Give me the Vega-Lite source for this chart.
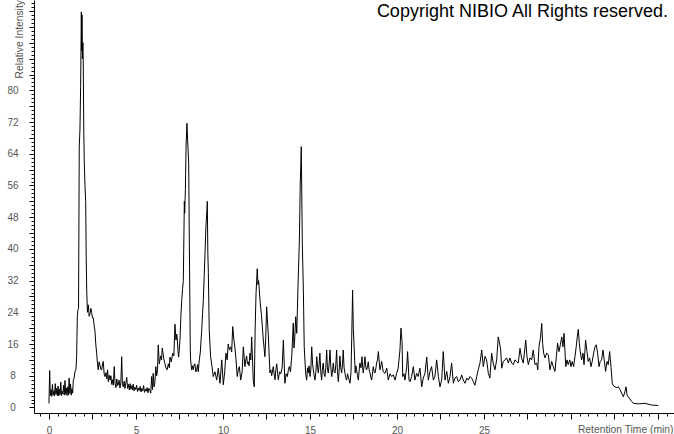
{
"$schema":"https://vega.github.io/schema/vega-lite/v6.json",
"width":640,"height":413,
"autosize":{"type":"none"},
"padding":{"left":34,"top":0,"right":0,"bottom":21},
"background":"white",
"config":{"view":{"stroke":null},"font":"Liberation Sans",
"axis":{"grid":false,"domainColor":"black","tickColor":"black","labelColor":"#555555","titleColor":"#555555","labelFont":"Liberation Sans","titleFont":"Liberation Sans","labelFontSize":10,"titleFontSize":10.3,"titleFontWeight":"normal","domainWidth":1,"tickWidth":1}},
"title":{"text":"Copyright NIBIO All Rights reserved.","anchor":"end","frame":"group","orient":"top","offset":-35,"baseline":"alphabetic","fontSize":18,"font":"Liberation Sans","fontWeight":"normal","color":"black","dx":-6},
"data":{"values":[
{"t":0,"v":1.0},{"t":0.04,"v":9.3},{"t":0.08,"v":3.0},{"t":0.12,"v":4.5},{"t":0.16,"v":2.8},{"t":0.2,"v":5.8},{"t":0.24,"v":3.1},{"t":0.28,"v":4.2},{"t":0.32,"v":2.9},{"t":0.36,"v":6.0},{"t":0.4,"v":3.3},{"t":0.44,"v":4.8},{"t":0.48,"v":3.0},{"t":0.52,"v":5.4},{"t":0.56,"v":2.9},{"t":0.6,"v":4.6},{"t":0.64,"v":3.2},{"t":0.68,"v":6.4},{"t":0.72,"v":3.0},{"t":0.76,"v":4.1},{"t":0.8,"v":3.4},{"t":0.84,"v":5.6},{"t":0.88,"v":3.1},{"t":0.92,"v":6.8},{"t":0.96,"v":3.3},{"t":1.0,"v":4.9},{"t":1.04,"v":3.0},{"t":1.08,"v":5.2},{"t":1.12,"v":3.2},{"t":1.16,"v":7.4},{"t":1.2,"v":3.5},{"t":1.24,"v":5.9},{"t":1.28,"v":3.1},{"t":1.32,"v":4.7},{"t":1.36,"v":3.6},{"t":1.4,"v":6.9},{"t":1.44,"v":7.2},{"t":1.49,"v":9.0},{"t":1.55,"v":9.5},{"t":1.59,"v":12.8},{"t":1.63,"v":23.0},{"t":1.66,"v":24.5},{"t":1.7,"v":25.0},{"t":1.72,"v":45.0},{"t":1.74,"v":65.7},{"t":1.78,"v":70.0},{"t":1.82,"v":81.0},{"t":1.86,"v":99.8},{"t":1.88,"v":90.0},{"t":1.9,"v":99.0},{"t":1.92,"v":88.0},{"t":1.95,"v":92.0},{"t":1.97,"v":87.6},{"t":2.0,"v":70.0},{"t":2.03,"v":61.6},{"t":2.07,"v":56.0},{"t":2.11,"v":52.0},{"t":2.14,"v":38.0},{"t":2.17,"v":29.6},{"t":2.21,"v":24.0},{"t":2.26,"v":25.9},{"t":2.31,"v":23.0},{"t":2.36,"v":23.7},{"t":2.41,"v":25.0},{"t":2.45,"v":24.0},{"t":2.5,"v":22.6},{"t":2.55,"v":22.6},{"t":2.6,"v":20.5},{"t":2.64,"v":19.5},{"t":2.69,"v":16.0},{"t":2.74,"v":13.7},{"t":2.79,"v":11.0},{"t":2.83,"v":9.5},{"t":2.88,"v":11.5},{"t":2.93,"v":10.7},{"t":2.98,"v":9.6},{"t":3.03,"v":9.5},{"t":3.08,"v":11.0},{"t":3.12,"v":11.6},{"t":3.17,"v":8.5},{"t":3.22,"v":7.8},{"t":3.27,"v":8.8},{"t":3.32,"v":7.2},{"t":3.37,"v":9.5},{"t":3.41,"v":6.5},{"t":3.46,"v":8.1},{"t":3.51,"v":6.9},{"t":3.56,"v":8.0},{"t":3.61,"v":5.8},{"t":3.66,"v":7.0},{"t":3.7,"v":5.6},{"t":3.75,"v":10.3},{"t":3.8,"v":6.0},{"t":3.85,"v":5.0},{"t":3.9,"v":7.2},{"t":3.94,"v":5.5},{"t":3.98,"v":5.7},{"t":4.03,"v":6.9},{"t":4.08,"v":4.9},{"t":4.13,"v":6.2},{"t":4.18,"v":12.8},{"t":4.22,"v":6.0},{"t":4.27,"v":5.2},{"t":4.32,"v":6.6},{"t":4.37,"v":4.8},{"t":4.42,"v":6.2},{"t":4.47,"v":7.6},{"t":4.52,"v":4.8},{"t":4.57,"v":5.8},{"t":4.62,"v":4.4},{"t":4.66,"v":6.0},{"t":4.71,"v":4.6},{"t":4.76,"v":5.5},{"t":4.8,"v":4.4},{"t":4.84,"v":5.9},{"t":4.89,"v":4.2},{"t":4.94,"v":5.1},{"t":4.99,"v":4.5},{"t":5.04,"v":5.6},{"t":5.09,"v":4.0},{"t":5.14,"v":4.9},{"t":5.19,"v":4.3},{"t":5.24,"v":5.3},{"t":5.29,"v":3.9},{"t":5.34,"v":4.8},{"t":5.39,"v":4.2},{"t":5.44,"v":5.5},{"t":5.49,"v":3.8},{"t":5.54,"v":4.6},{"t":5.59,"v":4.1},{"t":5.64,"v":5.0},{"t":5.69,"v":3.7},{"t":5.74,"v":4.8},{"t":5.8,"v":4.4},{"t":5.85,"v":3.6},{"t":5.9,"v":7.8},{"t":5.95,"v":4.5},{"t":5.99,"v":8.6},{"t":6.04,"v":5.2},{"t":6.09,"v":6.5},{"t":6.14,"v":10.3},{"t":6.19,"v":8.0},{"t":6.24,"v":9.5},{"t":6.28,"v":15.8},{"t":6.34,"v":11.0},{"t":6.42,"v":13.0},{"t":6.47,"v":12.0},{"t":6.51,"v":15.0},{"t":6.56,"v":13.5},{"t":6.61,"v":12.0},{"t":6.67,"v":11.0},{"t":6.72,"v":10.0},{"t":6.79,"v":9.5},{"t":6.86,"v":11.0},{"t":6.92,"v":10.0},{"t":6.95,"v":12.7},{"t":7.03,"v":11.5},{"t":7.11,"v":13.7},{"t":7.18,"v":13.0},{"t":7.24,"v":21.0},{"t":7.3,"v":17.0},{"t":7.34,"v":18.5},{"t":7.37,"v":17.5},{"t":7.42,"v":14.0},{"t":7.45,"v":12.7},{"t":7.53,"v":17.0},{"t":7.58,"v":23.0},{"t":7.63,"v":27.0},{"t":7.68,"v":30.0},{"t":7.72,"v":32.0},{"t":7.76,"v":45.0},{"t":7.78,"v":52.0},{"t":7.8,"v":49.0},{"t":7.84,"v":55.0},{"t":7.88,"v":66.0},{"t":7.93,"v":71.7},{"t":7.97,"v":67.4},{"t":8.03,"v":61.6},{"t":8.08,"v":35.0},{"t":8.12,"v":15.0},{"t":8.14,"v":12.0},{"t":8.2,"v":9.5},{"t":8.25,"v":10.5},{"t":8.29,"v":9.5},{"t":8.34,"v":10.7},{"t":8.39,"v":11.0},{"t":8.44,"v":9.0},{"t":8.49,"v":9.5},{"t":8.54,"v":10.8},{"t":8.58,"v":9.0},{"t":8.64,"v":12.0},{"t":8.7,"v":14.0},{"t":8.74,"v":17.0},{"t":8.78,"v":19.5},{"t":8.83,"v":24.0},{"t":8.87,"v":27.0},{"t":8.92,"v":33.0},{"t":8.97,"v":39.0},{"t":9.02,"v":45.6},{"t":9.08,"v":50.0},{"t":9.1,"v":52.0},{"t":9.13,"v":39.0},{"t":9.16,"v":34.0},{"t":9.21,"v":19.5},{"t":9.29,"v":12.8},{"t":9.37,"v":10.3},{"t":9.44,"v":7.8},{"t":9.54,"v":9.0},{"t":9.64,"v":6.9},{"t":9.73,"v":9.9},{"t":9.83,"v":6.1},{"t":9.93,"v":12.0},{"t":10.02,"v":5.7},{"t":10.1,"v":9.0},{"t":10.17,"v":13.7},{"t":10.24,"v":12.0},{"t":10.3,"v":16.0},{"t":10.37,"v":14.5},{"t":10.44,"v":15.3},{"t":10.5,"v":14.0},{"t":10.56,"v":20.4},{"t":10.63,"v":17.0},{"t":10.69,"v":15.0},{"t":10.75,"v":12.0},{"t":10.82,"v":7.8},{"t":10.88,"v":9.5},{"t":10.94,"v":10.3},{"t":11.02,"v":6.9},{"t":11.1,"v":9.0},{"t":11.17,"v":15.3},{"t":11.26,"v":10.3},{"t":11.31,"v":12.0},{"t":11.36,"v":13.0},{"t":11.41,"v":11.0},{"t":11.45,"v":11.5},{"t":11.5,"v":10.5},{"t":11.55,"v":13.7},{"t":11.6,"v":12.0},{"t":11.65,"v":17.8},{"t":11.74,"v":6.9},{"t":11.8,"v":5.2},{"t":11.85,"v":20.0},{"t":11.9,"v":28.8},{"t":11.97,"v":35.0},{"t":12.01,"v":31.0},{"t":12.05,"v":32.0},{"t":12.13,"v":27.0},{"t":12.22,"v":22.9},{"t":12.32,"v":17.0},{"t":12.41,"v":12.8},{"t":12.46,"v":18.0},{"t":12.51,"v":25.4},{"t":12.6,"v":18.7},{"t":12.7,"v":8.7},{"t":12.75,"v":9.5},{"t":12.8,"v":8.0},{"t":12.89,"v":10.3},{"t":12.94,"v":8.5},{"t":12.99,"v":7.0},{"t":13.04,"v":9.5},{"t":13.09,"v":11.0},{"t":13.14,"v":8.5},{"t":13.18,"v":7.0},{"t":13.25,"v":9.0},{"t":13.32,"v":8.5},{"t":13.4,"v":10.0},{"t":13.47,"v":17.0},{"t":13.56,"v":6.1},{"t":13.63,"v":8.5},{"t":13.7,"v":7.8},{"t":13.76,"v":9.5},{"t":13.81,"v":10.3},{"t":13.88,"v":9.0},{"t":13.95,"v":12.8},{"t":14.04,"v":21.3},{"t":14.08,"v":15.0},{"t":14.12,"v":17.0},{"t":14.18,"v":22.9},{"t":14.24,"v":18.7},{"t":14.31,"v":30.4},{"t":14.39,"v":42.0},{"t":14.44,"v":56.0},{"t":14.5,"v":65.8},{"t":14.56,"v":41.4},{"t":14.62,"v":29.6},{"t":14.67,"v":15.3},{"t":14.75,"v":8.7},{"t":14.81,"v":6.9},{"t":14.86,"v":10.0},{"t":14.9,"v":8.7},{"t":14.95,"v":10.5},{"t":15.0,"v":7.8},{"t":15.05,"v":9.5},{"t":15.1,"v":15.3},{"t":15.15,"v":11.0},{"t":15.19,"v":9.5},{"t":15.24,"v":8.0},{"t":15.29,"v":6.9},{"t":15.34,"v":9.0},{"t":15.39,"v":12.8},{"t":15.44,"v":10.0},{"t":15.48,"v":8.7},{"t":15.52,"v":10.5},{"t":15.57,"v":13.7},{"t":15.62,"v":9.0},{"t":15.67,"v":6.9},{"t":15.71,"v":9.5},{"t":15.76,"v":11.2},{"t":15.81,"v":8.5},{"t":15.86,"v":7.8},{"t":15.91,"v":10.0},{"t":15.96,"v":14.5},{"t":16.0,"v":10.0},{"t":16.05,"v":8.7},{"t":16.1,"v":11.0},{"t":16.15,"v":14.5},{"t":16.2,"v":10.0},{"t":16.25,"v":7.8},{"t":16.3,"v":9.5},{"t":16.34,"v":11.2},{"t":16.39,"v":9.0},{"t":16.44,"v":8.7},{"t":16.49,"v":11.0},{"t":16.53,"v":14.5},{"t":16.58,"v":9.0},{"t":16.63,"v":6.5},{"t":16.68,"v":9.5},{"t":16.72,"v":13.0},{"t":16.77,"v":10.0},{"t":16.82,"v":8.7},{"t":16.87,"v":11.0},{"t":16.91,"v":14.5},{"t":16.96,"v":10.0},{"t":17.01,"v":8.7},{"t":17.06,"v":7.5},{"t":17.11,"v":6.9},{"t":17.16,"v":8.5},{"t":17.2,"v":7.8},{"t":17.25,"v":7.0},{"t":17.3,"v":6.1},{"t":17.36,"v":9.0},{"t":17.4,"v":17.8},{"t":17.45,"v":29.6},{"t":17.49,"v":20.0},{"t":17.53,"v":16.0},{"t":17.6,"v":8.7},{"t":17.64,"v":10.5},{"t":17.68,"v":9.5},{"t":17.73,"v":8.0},{"t":17.78,"v":6.9},{"t":17.83,"v":9.5},{"t":17.87,"v":11.2},{"t":17.93,"v":10.0},{"t":17.99,"v":12.8},{"t":18.03,"v":10.0},{"t":18.06,"v":8.7},{"t":18.11,"v":10.5},{"t":18.16,"v":12.8},{"t":18.21,"v":10.0},{"t":18.26,"v":9.5},{"t":18.31,"v":10.5},{"t":18.35,"v":11.5},{"t":18.4,"v":9.5},{"t":18.45,"v":8.7},{"t":18.5,"v":7.5},{"t":18.55,"v":6.9},{"t":18.6,"v":9.0},{"t":18.64,"v":10.3},{"t":18.69,"v":9.0},{"t":18.74,"v":8.7},{"t":18.79,"v":10.0},{"t":18.83,"v":11.2},{"t":18.88,"v":12.0},{"t":18.93,"v":14.1},{"t":19.02,"v":9.5},{"t":19.07,"v":10.5},{"t":19.12,"v":11.6},{"t":19.21,"v":9.0},{"t":19.31,"v":8.6},{"t":19.41,"v":9.9},{"t":19.5,"v":6.9},{"t":19.6,"v":8.5},{"t":19.69,"v":7.8},{"t":19.79,"v":8.2},{"t":19.89,"v":6.9},{"t":19.98,"v":8.6},{"t":20.07,"v":9.9},{"t":20.17,"v":14.5},{"t":20.23,"v":20.0},{"t":20.29,"v":16.6},{"t":20.33,"v":7.8},{"t":20.4,"v":8.5},{"t":20.46,"v":6.9},{"t":20.56,"v":10.3},{"t":20.61,"v":14.1},{"t":20.69,"v":6.9},{"t":20.75,"v":6.5},{"t":20.84,"v":7.8},{"t":20.94,"v":10.3},{"t":21.03,"v":6.9},{"t":21.13,"v":8.6},{"t":21.22,"v":7.8},{"t":21.32,"v":9.9},{"t":21.42,"v":5.2},{"t":21.51,"v":7.4},{"t":21.61,"v":8.6},{"t":21.71,"v":12.7},{"t":21.8,"v":6.9},{"t":21.9,"v":9.1},{"t":21.99,"v":10.3},{"t":22.09,"v":6.9},{"t":22.18,"v":7.8},{"t":22.28,"v":12.0},{"t":22.38,"v":7.8},{"t":22.47,"v":5.2},{"t":22.57,"v":6.9},{"t":22.66,"v":14.1},{"t":22.76,"v":6.9},{"t":22.86,"v":9.1},{"t":22.95,"v":6.1},{"t":23.05,"v":7.8},{"t":23.14,"v":11.2},{"t":23.24,"v":6.1},{"t":23.33,"v":7.4},{"t":23.43,"v":7.8},{"t":23.52,"v":6.5},{"t":23.62,"v":6.9},{"t":23.72,"v":8.2},{"t":23.81,"v":6.9},{"t":23.91,"v":6.1},{"t":24.01,"v":7.4},{"t":24.1,"v":6.9},{"t":24.2,"v":7.8},{"t":24.29,"v":7.4},{"t":24.39,"v":6.5},{"t":24.48,"v":5.6},{"t":24.58,"v":7.8},{"t":24.67,"v":9.5},{"t":24.77,"v":11.2},{"t":24.87,"v":14.5},{"t":24.96,"v":10.3},{"t":25.06,"v":12.9},{"t":25.15,"v":12.0},{"t":25.25,"v":8.6},{"t":25.34,"v":7.4},{"t":25.44,"v":13.7},{"t":25.53,"v":11.2},{"t":25.63,"v":9.5},{"t":25.73,"v":12.0},{"t":25.82,"v":17.8},{"t":25.88,"v":16.6},{"t":25.96,"v":14.5},{"t":26.02,"v":9.9},{"t":26.11,"v":11.6},{"t":26.21,"v":12.0},{"t":26.3,"v":12.5},{"t":26.4,"v":11.2},{"t":26.49,"v":12.5},{"t":26.59,"v":11.2},{"t":26.69,"v":10.8},{"t":26.78,"v":12.0},{"t":26.88,"v":11.6},{"t":26.97,"v":11.2},{"t":27.07,"v":14.9},{"t":27.16,"v":12.5},{"t":27.26,"v":11.2},{"t":27.4,"v":17.0},{"t":27.47,"v":12.9},{"t":27.55,"v":10.8},{"t":27.64,"v":12.5},{"t":27.74,"v":12.0},{"t":27.83,"v":14.5},{"t":27.93,"v":10.8},{"t":28.03,"v":11.2},{"t":28.09,"v":9.5},{"t":28.16,"v":15.3},{"t":28.24,"v":17.4},{"t":28.32,"v":21.2},{"t":28.37,"v":16.2},{"t":28.43,"v":13.7},{"t":28.51,"v":12.5},{"t":28.6,"v":13.7},{"t":28.7,"v":13.3},{"t":28.79,"v":9.5},{"t":28.89,"v":11.6},{"t":28.98,"v":10.3},{"t":29.08,"v":9.1},{"t":29.16,"v":12.9},{"t":29.23,"v":16.2},{"t":29.31,"v":14.1},{"t":29.39,"v":15.8},{"t":29.47,"v":17.8},{"t":29.54,"v":15.3},{"t":29.6,"v":18.7},{"t":29.7,"v":10.3},{"t":29.77,"v":12.0},{"t":29.84,"v":10.8},{"t":29.93,"v":12.0},{"t":30.0,"v":10.3},{"t":30.07,"v":11.6},{"t":30.15,"v":10.3},{"t":30.23,"v":12.9},{"t":30.3,"v":15.3},{"t":30.36,"v":17.8},{"t":30.42,"v":19.7},{"t":30.48,"v":16.2},{"t":30.53,"v":14.1},{"t":30.61,"v":12.0},{"t":30.69,"v":13.7},{"t":30.75,"v":10.8},{"t":30.84,"v":17.0},{"t":30.92,"v":14.1},{"t":30.99,"v":11.6},{"t":31.07,"v":12.5},{"t":31.15,"v":10.3},{"t":31.22,"v":11.6},{"t":31.3,"v":13.7},{"t":31.38,"v":15.3},{"t":31.45,"v":15.8},{"t":31.53,"v":13.7},{"t":31.61,"v":10.3},{"t":31.68,"v":11.6},{"t":31.76,"v":12.0},{"t":31.84,"v":14.5},{"t":31.91,"v":12.0},{"t":31.99,"v":9.1},{"t":32.07,"v":11.6},{"t":32.14,"v":10.8},{"t":32.22,"v":14.1},{"t":32.3,"v":10.3},{"t":32.37,"v":6.1},{"t":32.45,"v":5.4},{"t":32.53,"v":5.2},{"t":32.63,"v":5.0},{"t":32.72,"v":5.2},{"t":32.82,"v":4.5},{"t":32.91,"v":3.6},{"t":33.01,"v":2.7},{"t":33.1,"v":4.0},{"t":33.16,"v":5.2},{"t":33.22,"v":3.2},{"t":33.29,"v":2.7},{"t":33.39,"v":2.1},{"t":33.49,"v":1.5},{"t":33.58,"v":1.05},{"t":33.87,"v":0.9},{"t":34.25,"v":1.05},{"t":34.64,"v":0.6},{"t":35.02,"v":0.5}
]},
"layer":[
{"mark":{"type":"line","color":"black","strokeWidth":1},
"encoding":{
"x":{"field":"t","type":"quantitative","scale":{"domain":[-0.86,35.92],"nice":false,"zero":false},
"axis":{"orient":"bottom","values":[0,2.5,5,7.5,10,12.5,15,17.5,20,22.5,25,27.5,30,32.5,35],"tickSize":6,"labelExpr":"datum.value % 5 === 0 && datum.value <= 25 ? datum.label : ''","labelBaseline":"top","labelPadding":6,"labelFlush":false,"labelOverlap":false,"title":"Retention Time (min)","titleX":639,"titleY":19,"titleAlign":"right","titleBaseline":"alphabetic","titleAnchor":null}},
"y":{"field":"v","type":"quantitative","scale":{"domain":[-1.4,102.8],"nice":false,"zero":false},
"axis":{"orient":"left","values":[0,4,8,12,16,20,24,28,32,36,40,44,48,52,56,60,64,68,72,76,80,84,88,92,96,100],"tickSize":5,"labelExpr":"datum.value % 8 === 0 && datum.value <= 80 ? datum.label : ''","labelAlign":"center","labelBaseline":"middle","labelPadding":16.5,"labelFlush":false,"labelOverlap":false,"title":"Relative Intensity","titleAngle":270,"titleX":-12,"titleY":78,"titleAlign":"left","titleBaseline":"alphabetic"}}
}},
{"mark":{"type":"line","strokeOpacity":0},
"encoding":{
"x":{"field":"t","type":"quantitative","scale":{"domain":[-0.86,35.92],"nice":false,"zero":false},
"axis":{"orient":"bottom","values":[-0.5,0.5,1,1.5,2,3,3.5,4,4.5,5.5,6,6.5,7,8,8.5,9,9.5,10.5,11,11.5,12,13,13.5,14,14.5,15.5,16,16.5,17,18,18.5,19,19.5,20.5,21,21.5,22,23,23.5,24,24.5,25.5,26,26.5,27,28,28.5,29,29.5,30.5,31,31.5,32,33,33.5,34,34.5,35.5],"tickSize":3,"labels":false,"domain":false,"title":null}},
"y":{"field":"v","type":"quantitative","scale":{"domain":[-1.4,102.8],"nice":false,"zero":false},
"axis":{"orient":"left","values":[1,2,3,5,6,7,9,10,11,13,14,15,17,18,19,21,22,23,25,26,27,29,30,31,33,34,35,37,38,39,41,42,43,45,46,47,49,50,51,53,54,55,57,58,59,61,62,63,65,66,67,69,70,71,73,74,75,77,78,79,81,82,83,85,86,87,89,90,91,93,94,95,97,98,99,101,102],"tickSize":3,"labels":false,"domain":false,"title":null}}
}}
],
"resolve":{"axis":{"x":"independent","y":"independent"}}
}
